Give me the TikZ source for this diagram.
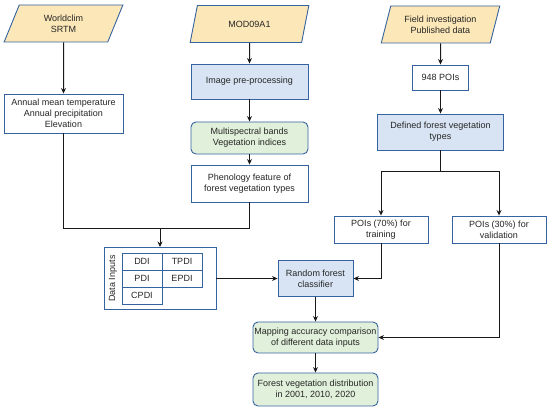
\documentclass[tikz,border=0pt]{standalone}
\usepackage{fontspec}
\setmainfont{Liberation Sans}
\usetikzlibrary{shapes.geometric,arrows.meta}
\definecolor{bordc}{HTML}{3563A0}
\definecolor{yelf}{HTML}{FBE7B8}
\definecolor{bluef}{HTML}{D8E4F4}
\definecolor{greenf}{HTML}{E1F0DA}
\tikzset{
  base/.style={draw=bordc, line width=0.9pt, align=center, inner sep=1pt,
    font=\fontsize{9}{10.8}\selectfont, text=black!85},
  para/.style={base, fill=yelf, trapezium, trapezium left angle=70, trapezium right angle=110,
    trapezium stretches=true, minimum width=119pt, minimum height=37pt},
  wbox/.style={base, fill=white, rectangle},
  bbox/.style={base, fill=bluef, rectangle},
  gbox/.style={base, fill=greenf, rectangle, rounded corners=5pt},
  cell/.style={draw=bordc, line width=0.8pt, minimum width=40pt, minimum height=17pt,
    inner sep=0pt, font=\fontsize{9}{10.8}\selectfont, text=black!85},
  conn/.style={line width=1pt, black!90},
  arr/.style={conn, -{Stealth[length=5.5pt,width=5pt]}}
}
\begin{document}
\begin{tikzpicture}[x=1pt,y=-1pt]
\useasboundingbox (0,0) rectangle (550,411);
% parallelograms
\node[para] (wc) at (63.5,23.5) {Worldclim\\SRTM};
\node[para] (mod) at (249.5,24) {MOD09A1};
\node[para] (fi) at (440.5,24.5) {Field investigation\\Published data};
% left column
\node[wbox, minimum width=119pt, minimum height=39pt] (ann) at (63.5,113.5)
  {Annual mean temperature\\Annual precipitation\\Elevation};
% middle column
\node[bbox, minimum width=117pt, minimum height=35pt] (img) at (249.5,81.5) {Image pre-processing};
\node[gbox, minimum width=117pt, minimum height=32pt] (ms) at (249.5,138) {Multispectral bands\\Vegetation indices};
\node[wbox, minimum width=117pt, minimum height=37pt] (phen) at (249.5,183.5) {Phenology feature of\\forest vegetation types};
% right column
\node[wbox, minimum width=56pt, minimum height=25pt] (poi) at (440.5,77.5) {948 POIs};
\node[bbox, minimum width=126pt, minimum height=36pt] (def) at (440.5,132) {Defined forest vegetation\\types};
\node[wbox, minimum width=94pt, minimum height=27pt] (p70) at (381,229.5) {POIs (70\%) for\\training};
\node[wbox, minimum width=94pt, minimum height=27pt] (p30) at (499,229.5) {POIs (30\%) for\\validation};
% data inputs
\node[wbox, minimum width=112pt, minimum height=62pt] (di) at (160,278.5) {};
\node[font=\fontsize{9}{10.8}\selectfont, text=black!85, rotate=90, inner sep=0pt] (dil) at (113,278.5) {Data Inputs};
\node[cell] (ddi) at (142,261.5) {DDI};
\node[cell] (tpdi) at (182,261.5) {TPDI};
\node[cell] (pdi) at (142,278.5) {PDI};
\node[cell] (epdi) at (182,278.5) {EPDI};
\node[cell] (cpdi) at (142,295.5) {CPDI};
% lower
\node[bbox, minimum width=75pt, minimum height=36pt] (rf) at (315.5,278.5) {Random forest\\classifier};
\node[gbox, minimum width=125pt, minimum height=31pt] (map) at (315.5,337.5) {Mapping accuracy comparison\\of different data inputs};
\node[gbox, minimum width=125pt, minimum height=33pt] (fvd) at (315.5,389.5) {Forest vegetation distribution\\in 2001, 2010, 2020};
% junctions
\coordinate (j) at (160,229);
\coordinate (sp) at (440.5,172);
% connectors
\draw[arr] (wc) -- (ann);
\draw[arr] (mod) -- (img);
\draw[arr] (img) -- (ms);
\draw[arr] (ms) -- (phen);
\draw[arr] (fi) -- (poi);
\draw[arr] (poi) -- (def);
\draw[conn] (ann.south) |- (j);
\draw[conn] (phen.south) |- (j);
\draw[arr] (j) -- (di.north);
\draw[conn] (def.south) -- (sp);
\draw[arr] (sp) -| (p70.north);
\draw[arr] (sp) -| (p30.north);
\draw[arr] (p70.south) |- (rf.east);
\draw[arr] (di.east) -- (rf.west);
\draw[arr] (rf) -- (map);
\draw[arr] (p30.south) |- (map.east);
\draw[arr] (map) -- (fvd);
\end{tikzpicture}
\end{document}
